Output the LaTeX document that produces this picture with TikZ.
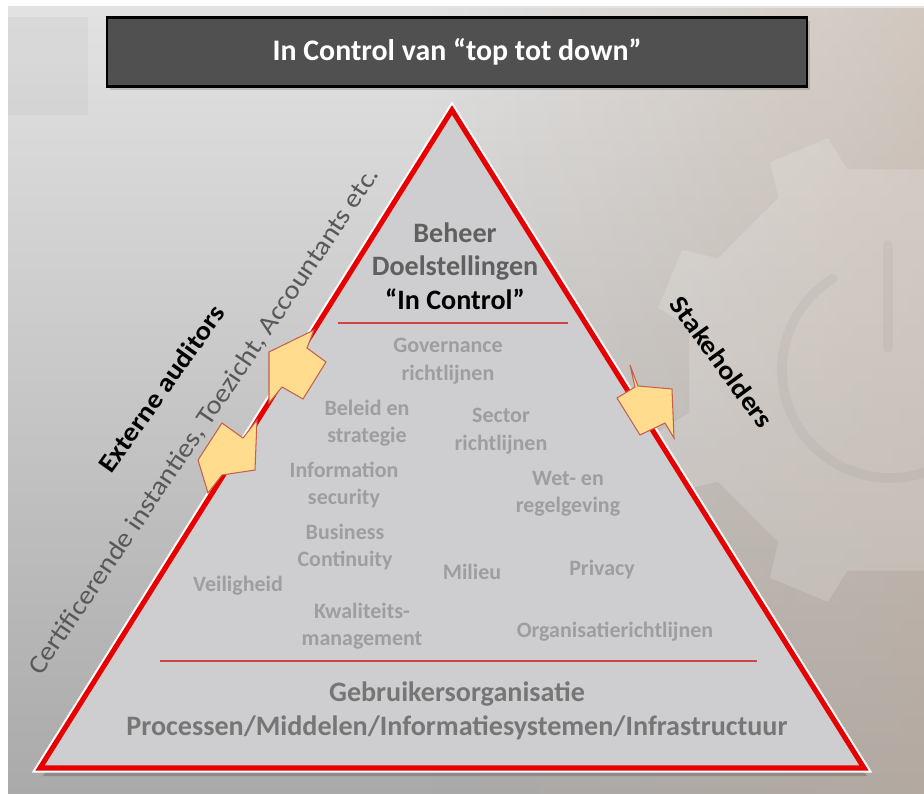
\documentclass[tikz,border=0pt]{standalone}
\usepackage{fontspec}
\setmainfont{Carlito}
\newfontfamily\widefont[FakeStretch=1.1]{Carlito}
\usepackage{tikz}
\usetikzlibrary{positioning, shadows, fadings, calc}

\definecolor{bgtop}{RGB}{226,226,226}
\definecolor{bgbottom}{RGB}{170,170,170}
\definecolor{bgtint}{RGB}{190,168,150}
\definecolor{titlegray}{RGB}{80,80,80}
\definecolor{pyrfill}{RGB}{206,206,209}
\definecolor{pyrred}{RGB}{232,0,0}
\definecolor{sepred}{RGB}{205,70,70}
\definecolor{darktext}{RGB}{96,96,96}
\definecolor{lighttext}{RGB}{158,158,160}
\definecolor{basetext}{RGB}{118,118,118}
\definecolor{sidetext}{RGB}{88,88,88}
\definecolor{arrowfill}{RGB}{255,220,142}
\definecolor{arrowdraw}{RGB}{200,95,75}

\tikzstyle{titlebox} = [rectangle, minimum width=14cm, minimum height=1.38cm, draw=black, line width=1.2pt, fill=titlegray, text=white, font=\fontsize{17}{20}\selectfont\bfseries, drop shadow={shadow xshift=1.5pt, shadow yshift=-2pt, opacity=0.35}]
\tikzstyle{toplabel} = [align=center, text=darktext, font=\fontsize{16}{19}\selectfont\bfseries]
\tikzstyle{rule} = [align=center, text=lighttext, font=\fontsize{12.5}{15.6}\selectfont\bfseries]
\tikzstyle{baselabel} = [align=center, text=basetext, font=\fontsize{16}{19}\selectfont\bfseries]
\tikzstyle{sidelabel} = [inner sep=0pt, font=\widefont\fontsize{15}{18}\selectfont]
\tikzstyle{sidebold} = [inner sep=0pt, font=\widefont\fontsize{15}{18}\selectfont\bfseries]
\tikzstyle{sepline} = [draw=sepred, line width=0.6pt]
\tikzstyle{blockarrow} = [fill=arrowfill, draw=arrowdraw, line width=0.6pt, line join=miter]

\begin{document}
\begin{tikzpicture}[x=0.02cm, y=-0.02cm]
\useasboundingbox (0,0) rectangle (924,794);

% Background
\fill[white] (0,0) rectangle (924,794);
\shade[top color=bgtop, bottom color=bgbottom] (8,7) rectangle (924,794);
\fill[bgtint, path fading=west, opacity=0.45] (430,7) rectangle (924,794);
\fill[black, opacity=0.03] (8,17) rectangle (88,115);

% Gear watermark
\begin{scope}
\clip (8,7) rectangle (924,794);
\fill[shift={(890,370)}, white, opacity=0.16] (12:205)
  \foreach \a in {0,45,...,315} { -- (\a+12:205) -- (\a+15:240) -- (\a+30:240) -- (\a+33:205) } -- cycle;
\draw[black, opacity=0.035, line width=5.5pt, line cap=round] ($(890,370)+(-122:108)$) arc[start angle=-122, end angle=-418, radius=108];
\draw[black, opacity=0.035, line width=5.5pt, line cap=round] (888,245) -- (888,348);
\end{scope}

% Title
\node (title) [titlebox] at (457,52) {In Control van “top tot down”};

% Pyramid
\coordinate (apex) at (452,110);
\coordinate (bl) at (40,768);
\coordinate (br) at (864,768);
\fill[black, opacity=0.18] (455,118) -- (43,776) -- (867,776) -- cycle;
\draw[white, line width=5.2pt, line join=miter] (apex) -- (bl) -- (br) -- cycle;
\fill[pyrfill] (apex) -- (bl) -- (br) -- cycle;
\draw[pyrred, line width=2.9pt, line join=miter] (apex) -- (bl) -- (br) -- cycle;

% Separators
\draw[sepline] (338,323) -- (568,323);
\draw[sepline] (160,661) -- (757,661);

% Top layer
\node (beheer) [toplabel] at (455,266) {Beheer\\Doelstellingen\\\textcolor{black}{“In Control”}};

% Rules and frameworks
\node (governance) [rule] at (448,361) {Governance\\richtlijnen};
\node (beleid) [rule] at (367,423) {Beleid en\\strategie};
\node (sector) [rule] at (501,431) {Sector\\richtlijnen};
\node (infosec) [rule] at (344,485) {Information\\security};
\node (wet) [rule] at (568,494) {Wet- en\\regelgeving};
\node (business) [rule] at (345,547) {Business\\Continuity};
\node (milieu) [rule] at (472,572) {Milieu};
\node (privacy) [rule] at (602,570) {Privacy};
\node (veiligheid) [rule] at (238,586) {Veiligheid};
\node (kwaliteit) [rule] at (362,626) {Kwaliteits-\\management};
\node (organisatie) [rule] at (615,632) {Organisatierichtlijnen};

% Base layer
\node (gebruikers) [baselabel] at (457,711) {Gebruikersorganisatie\\Processen/Middelen/Informatiesystemen/Infrastructuur};

% Side labels
\node (auditors) [sidebold, anchor=base west, rotate=54.5] at (111,475) {Externe auditors};
\node (instanties) [sidelabel, anchor=base west, rotate=56, text=sidetext] at (41,677) {Certificerende instanties, Toezicht, Accountants etc.};
\node (stakeholders) [sidebold, rotate=-54] at (722,362) {Stakeholders};

% Block arrows
\draw[blockarrow] (269,352) -- (314,330) -- (307,348) -- (326,362) -- (303,399) -- (282,387) -- (269,403) -- cycle;
\draw[blockarrow] (222,423) -- (243,438) -- (257,420) -- (255,470) -- (222,475) -- (208,493) -- (198,460) -- cycle;
\draw[blockarrow] (630,365) -- (638,386) -- (672,389) -- (674,438) -- (665,423) -- (640,435) -- (617,398) -- (635,387) -- cycle;

\end{tikzpicture}
\end{document}
